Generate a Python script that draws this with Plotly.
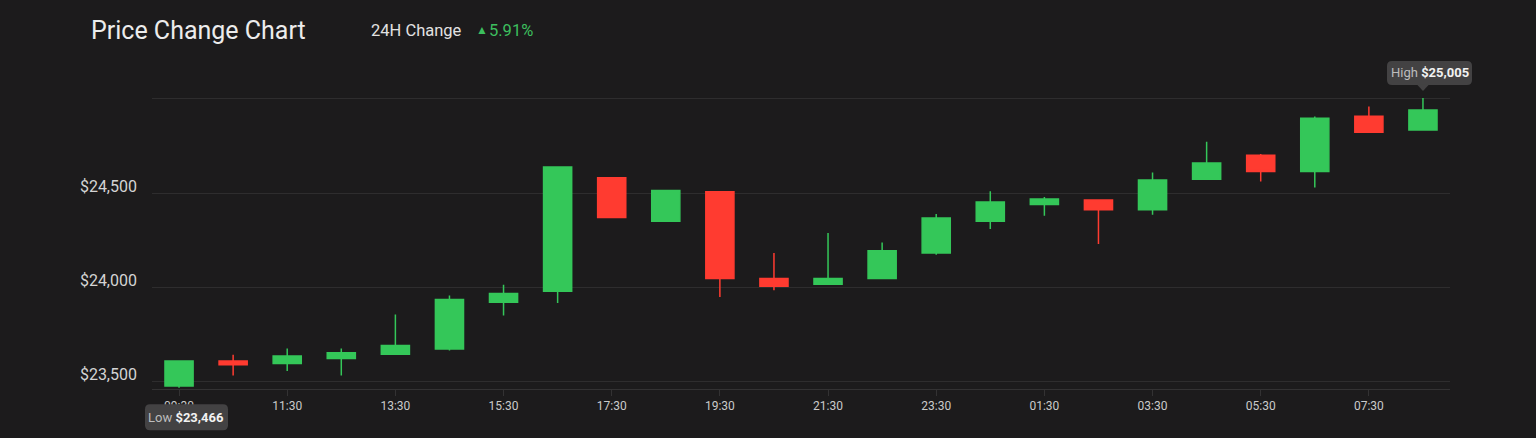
import plotly.graph_objects as go
import pandas as pd

# ---------------- data ----------------
start_time = "2023-02-16 09:30"
n_candles = 24
opens  = [23476, 23608, 23596, 23622, 23645, 23672, 23921, 23979, 24581, 24350, 24507, 24046,
          24016, 24046, 24182, 24350, 24440, 24463, 24412, 24574, 24701, 24614, 24908, 24835]
highs  = [23610, 23642, 23675, 23675, 23855, 23956, 24014, 24640, 24585, 24516, 24510, 24182,
          24288, 24238, 24389, 24510, 24479, 24466, 24609, 24773, 24707, 24906, 24959, 25005]
lows   = [23466, 23532, 23555, 23532, 23642, 23665, 23850, 23917, 24368, 24348, 23949, 23984,
          24014, 24044, 24173, 24309, 24380, 24230, 24385, 24570, 24561, 24530, 24820, 24833]
closes = [23608, 23589, 23635, 23652, 23691, 23935, 23967, 24638, 24371, 24514, 24046, 24005,
          24046, 24194, 24368, 24452, 24468, 24412, 24569, 24659, 24614, 24897, 24823, 24941]
y_tick_vals = [23500, 24000, 24500, 25000]
y_tick_text = ["$23,500", "$24,000", "$24,500", ""]
title_text = "Price Change Chart"
change_label = "24H Change"
change_value = "5.91%"
low_label, low_value = "Low", "$23,466"
high_label, high_value = "High", "$25,005"

times = pd.date_range(start_time, periods=n_candles, freq="h")
x_tick_vals = list(times[::2])
x_tick_text = [t.strftime("%H:%M") for t in x_tick_vals]

# ---------------- style ----------------
W, H = 1536, 438
ML, MR, MT, MB = 152, 86, 97, 49
Y_RANGE = [23460, 25010]
BG = "#1c1b1c"
GREEN = "#34c759"
RED = "#ff3b30"
FONT = "Roboto"

def px_x(p):
    return (p - ML) / (W - ML - MR)

def px_y(p):
    return (H - MB - p) / (H - MT - MB)

fig = go.Figure()
fig.add_trace(go.Candlestick(
    x=times, open=opens, high=highs, low=lows, close=closes,
    increasing=dict(line=dict(color=GREEN, width=1.5), fillcolor=GREEN),
    decreasing=dict(line=dict(color=RED, width=1.5), fillcolor=RED),
    whiskerwidth=0, showlegend=False, hoverinfo="skip",
))

def rrect(x0, x1, y0, y1, r):
    return (f"M{x0+r},{y1} L{x1-r},{y1} Q{x1},{y1} {x1},{y1-r} "
            f"L{x1},{y0+r} Q{x1},{y0} {x1-r},{y0} L{x0+r},{y0} "
            f"Q{x0},{y0} {x0},{y0+r} L{x0},{y1-r} Q{x0},{y1} {x0+r},{y1} Z")

# anchors of the tooltips (pixel positions of the low / high points)
plot_h = H - MT - MB
def val_to_px(v):
    return H - MB - (v - Y_RANGE[0]) / (Y_RANGE[1] - Y_RANGE[0]) * plot_h

low_ax, low_ay = px_x(179), px_y(val_to_px(lows[0]))
high_ax, high_ay = px_x(1423), px_y(val_to_px(highs[-1]))

BOX = "#434243"
shapes = [
    dict(type="path", xref="paper", yref="paper", xsizemode="pixel", ysizemode="pixel",
         xanchor=low_ax, yanchor=low_ay, layer="above",
         path=rrect(-34, 49, -42.5, -16.5, 5), fillcolor=BOX, line=dict(width=0)),
    dict(type="path", xref="paper", yref="paper", xsizemode="pixel", ysizemode="pixel",
         xanchor=high_ax, yanchor=high_ay, layer="above",
         path=rrect(-36, 49, 13, 37, 5), fillcolor=BOX, line=dict(width=0)),
    dict(type="path", xref="paper", yref="paper", xsizemode="pixel", ysizemode="pixel",
         xanchor=high_ax, yanchor=high_ay, layer="above",
         path="M-6,13.5 L6,13.5 L0,7 Z", fillcolor=BOX, line=dict(width=0)),
]

annotations = [
    dict(text=title_text, xref="paper", yref="paper", x=px_x(89), y=px_y(30),
         xanchor="left", yanchor="middle", showarrow=False,
         font=dict(family=FONT, size=25, color="#ececec")),
    dict(text=change_label, xref="paper", yref="paper", x=px_x(369), y=px_y(30),
         xanchor="left", yanchor="middle", showarrow=False,
         font=dict(family=FONT, size=16.5, color="#e2e2e2")),
    dict(text="▲", xref="paper", yref="paper", x=px_x(474), y=px_y(30),
         xanchor="left", yanchor="middle", showarrow=False,
         font=dict(family=FONT, size=12, color="#3cbf5e")),
    dict(text=change_value, xref="paper", yref="paper", x=px_x(487), y=px_y(30),
         xanchor="left", yanchor="middle", showarrow=False,
         font=dict(family=FONT, size=16.5, color="#3cbf5e")),
    dict(text=f"<span style='color:#bdbdbd'>{low_label}</span> <b>{low_value}</b>",
         x=times[0], y=lows[0], xref="x", yref="y", xshift=7, yshift=-29.5,
         showarrow=False, font=dict(family=FONT, size=13, color="#f2f2f2")),
    dict(text=f"<span style='color:#bdbdbd'>{high_label}</span> <b>{high_value}</b>",
         x=times[-1], y=highs[-1], xref="x", yref="y", xshift=7, yshift=25,
         showarrow=False, font=dict(family=FONT, size=13, color="#f2f2f2")),
]

fig.update_layout(
    width=W, height=H,
    margin=dict(l=ML, r=MR, t=MT, b=MB, pad=0),
    paper_bgcolor=BG, plot_bgcolor=BG,
    font=dict(family=FONT, color="#d2d2d2"),
    boxgap=0.48, boxgroupgap=0,
    shapes=shapes, annotations=annotations,
    xaxis=dict(
        type="date",
        range=[times[0] - pd.Timedelta(minutes=30), times[-1] + pd.Timedelta(minutes=30)],
        tickvals=x_tick_vals, ticktext=x_tick_text,
        showgrid=False, zeroline=False,
        showline=True, linecolor="#333233", linewidth=1,
        ticks="outside", ticklen=6, tickcolor="#333233", tickwidth=1,
        tickfont=dict(family=FONT, size=12, color="#cacaca"),
        rangeslider=dict(visible=False), fixedrange=True,
    ),
    yaxis=dict(
        range=Y_RANGE,
        tickvals=y_tick_vals, ticktext=y_tick_text,
        showgrid=True, gridcolor="#2e2d2e", gridwidth=1,
        zeroline=False, showline=False,
        ticklabelstandoff=14, ticklabelshift=-7,
        tickfont=dict(family=FONT, size=16, color="#d4d4d4"),
        fixedrange=True,
    ),
)

fig.write_html("out.html", config={"displayModeBar": False},
               post_script="document.body.style.margin='0';")
